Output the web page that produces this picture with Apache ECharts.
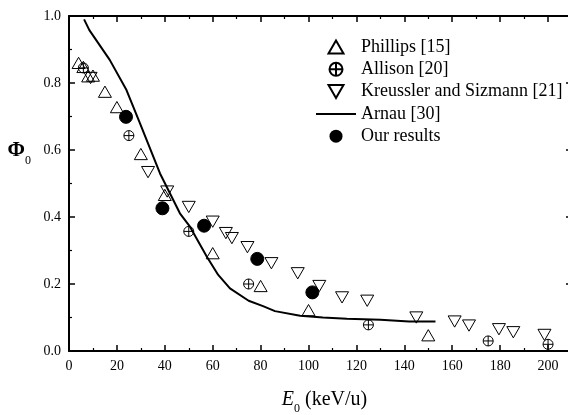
<!DOCTYPE html>
<html><head><meta charset="utf-8">
<script src="https://cdn.jsdelivr.net/npm/echarts@6/dist/echarts.min.js"></script>
<style>html,body{margin:0;padding:0;background:#fff}#c{width:568px;height:415px}</style>
</head><body><div id="c"></div>
<script>
var phillipsE = [4, 6, 8, 10, 15, 20, 30, 40, 60, 80, 100, 150];
var phillipsPhi = [0.86, 0.848, 0.82, 0.822, 0.774, 0.728, 0.588, 0.466, 0.292, 0.194, 0.122, 0.047];
var allisonE = [6, 25, 50, 75, 125, 175, 200];
var allisonPhi = [0.845, 0.643, 0.357, 0.2, 0.078, 0.03, 0.02];
var kreusslerE = [9, 33, 41, 50, 60, 65.5, 68, 74.5, 84.5, 95.5, 104.5, 114, 124.5, 145, 161, 167, 179.5, 185.5, 198.5];
var kreusslerPhi = [0.815, 0.534, 0.476, 0.43, 0.386, 0.352, 0.337, 0.31, 0.262, 0.232, 0.194, 0.16, 0.15, 0.1, 0.088, 0.076, 0.065, 0.056, 0.048];
var arnauE = [6.3, 8.5, 17, 24, 29.6, 38, 46.3, 50.5, 57.5, 62.3, 67.2, 75, 81, 86, 96.5, 106, 116, 130, 142, 153];
var arnauPhi = [0.99, 0.958, 0.869, 0.779, 0.68, 0.53, 0.411, 0.371, 0.282, 0.227, 0.187, 0.15, 0.134, 0.119, 0.105, 0.1, 0.096, 0.093, 0.088, 0.088];
var oursE = [23.8, 39, 56.4, 78.6, 101.6];
var oursPhi = [0.699, 0.426, 0.374, 0.275, 0.175];
var xTicks = [0, 20, 40, 60, 80, 100, 120, 140, 160, 180, 200];
var yTicks = [0.0, 0.2, 0.4, 0.6, 0.8, 1.0];

function pairs(a, b) { return a.map(function (v, i) { return [v, b[i]]; }); }

var FONT = 'Liberation Serif';
var chart = echarts.init(document.getElementById('c'), null, { renderer: 'canvas' });
var axisCommon = {
  axisLine: { show: true, onZero: false, lineStyle: { color: '#000', width: 2 } },
  axisTick: { show: true, inside: true, length: 6, lineStyle: { color: '#000', width: 1.5 } },
  minorTick: { show: true, splitNumber: 2, length: 3, lineStyle: { color: '#000', width: 1.2 } },
  splitLine: { show: false },
  minorSplitLine: { show: false }
};
var plusCircle = 'path://M0,-10A10,10,0,1,1,0,10A10,10,0,1,1,0,-10ZM-10,0L10,0M0,-10L0,10';
var upTri = 'path://M0,-8.66L10,8.66L-10,8.66Z';
var downTri = 'path://M-10,-8.66L10,-8.66L0,8.66Z';
var hollow = { color: 'rgba(255,255,255,0)', borderColor: '#000', borderWidth: 1, opacity: 1 };

chart.setOption({
  animation: false,
  backgroundColor: '#fff',
  grid: { left: 69, top: 16, width: 503, height: 335, containLabel: false, outerBoundsMode: 'none' },
  legend: {
    orient: 'vertical', left: 310, top: 33, itemWidth: 40, itemHeight: 13, itemGap: 4.3,
    textStyle: { fontFamily: FONT, fontSize: 18, lineHeight: 18, color: '#000' },
    data: [
      { name: 'Phillips [15]' },
      { name: 'Allison [20]' },
      { name: 'Kreussler and Sizmann [21]' },
      { name: 'Arnau [30]', itemStyle: { color: 'rgba(0,0,0,0)', borderColor: 'rgba(0,0,0,0)', borderWidth: 0 } },
      { name: 'Our results' }
    ]
  },
  xAxis: [
    Object.assign({
      type: 'value', min: 0, max: 210, interval: 20, position: 'bottom',
      axisLabel: { show: true, fontFamily: FONT, fontSize: 14, color: '#000', margin: 8, showMaxLabel: false,
        formatter: function (v) { return xTicks.indexOf(v) >= 0 ? String(v) : ''; } },
      name: '{e|E}{s|0}{r| (keV/u)}', nameLocation: 'middle', nameGap: 34,
      nameTextStyle: {
        fontFamily: FONT, color: '#000', padding: [0, 0, 0, 8],
        rich: {
          e: { fontFamily: FONT, fontStyle: 'italic', fontSize: 20, color: '#000', verticalAlign: 'middle' },
          s: { fontFamily: FONT, fontSize: 12, color: '#000', lineHeight: 30, verticalAlign: 'bottom' },
          r: { fontFamily: FONT, fontSize: 20, color: '#000', verticalAlign: 'middle' }
        }
      }
    }, axisCommon),
    Object.assign({
      type: 'value', min: 0, max: 210, interval: 20, position: 'top',
      axisLabel: { show: false }
    }, axisCommon)
  ],
  yAxis: [
    Object.assign({
      type: 'value', min: 0, max: 1, interval: 0.2, position: 'left',
      axisLabel: { show: true, fontFamily: FONT, fontSize: 14, color: '#000', margin: 8,
        formatter: function (v) { return v.toFixed(1); } },
      name: '{p|Φ}{s|0}', nameLocation: 'middle', nameRotate: 0, nameGap: 38,
      nameTextStyle: {
        padding: [0, 0, 65, 0],
        rich: {
          p: { fontFamily: FONT, fontWeight: 'bold', fontSize: 21, color: '#000', verticalAlign: 'middle' },
          s: { fontFamily: FONT, fontSize: 12, color: '#000', lineHeight: 32, verticalAlign: 'bottom' }
        }
      }
    }, axisCommon),
    Object.assign({
      type: 'value', min: 0, max: 1, interval: 0.2, position: 'right',
      axisLabel: { show: false }
    }, axisCommon)
  ],
  series: [
    {
      name: 'Phillips [15]', type: 'scatter', symbol: upTri, symbolSize: 13, symbolKeepAspect: true,
      itemStyle: hollow, data: pairs(phillipsE, phillipsPhi), z: 3
    },
    {
      name: 'Allison [20]', type: 'scatter', symbol: plusCircle, symbolSize: 10, symbolKeepAspect: true,
      itemStyle: hollow, data: pairs(allisonE, allisonPhi), z: 3
    },
    {
      name: 'Kreussler and Sizmann [21]', type: 'scatter', symbol: downTri, symbolSize: 13, symbolKeepAspect: true,
      itemStyle: hollow, data: pairs(kreusslerE, kreusslerPhi), z: 3
    },
    {
      name: 'Arnau [30]', type: 'line', symbol: 'none', smooth: false,
      lineStyle: { color: '#000', width: 2 }, itemStyle: { color: '#000' },
      data: pairs(arnauE, arnauPhi), z: 2
    },
    {
      name: 'Our results', type: 'scatter', symbol: 'circle', symbolSize: 13,
      itemStyle: { color: '#000', borderColor: '#000', opacity: 1 },
      data: pairs(oursE, oursPhi), z: 4
    }
  ]
});
</script></body></html>
